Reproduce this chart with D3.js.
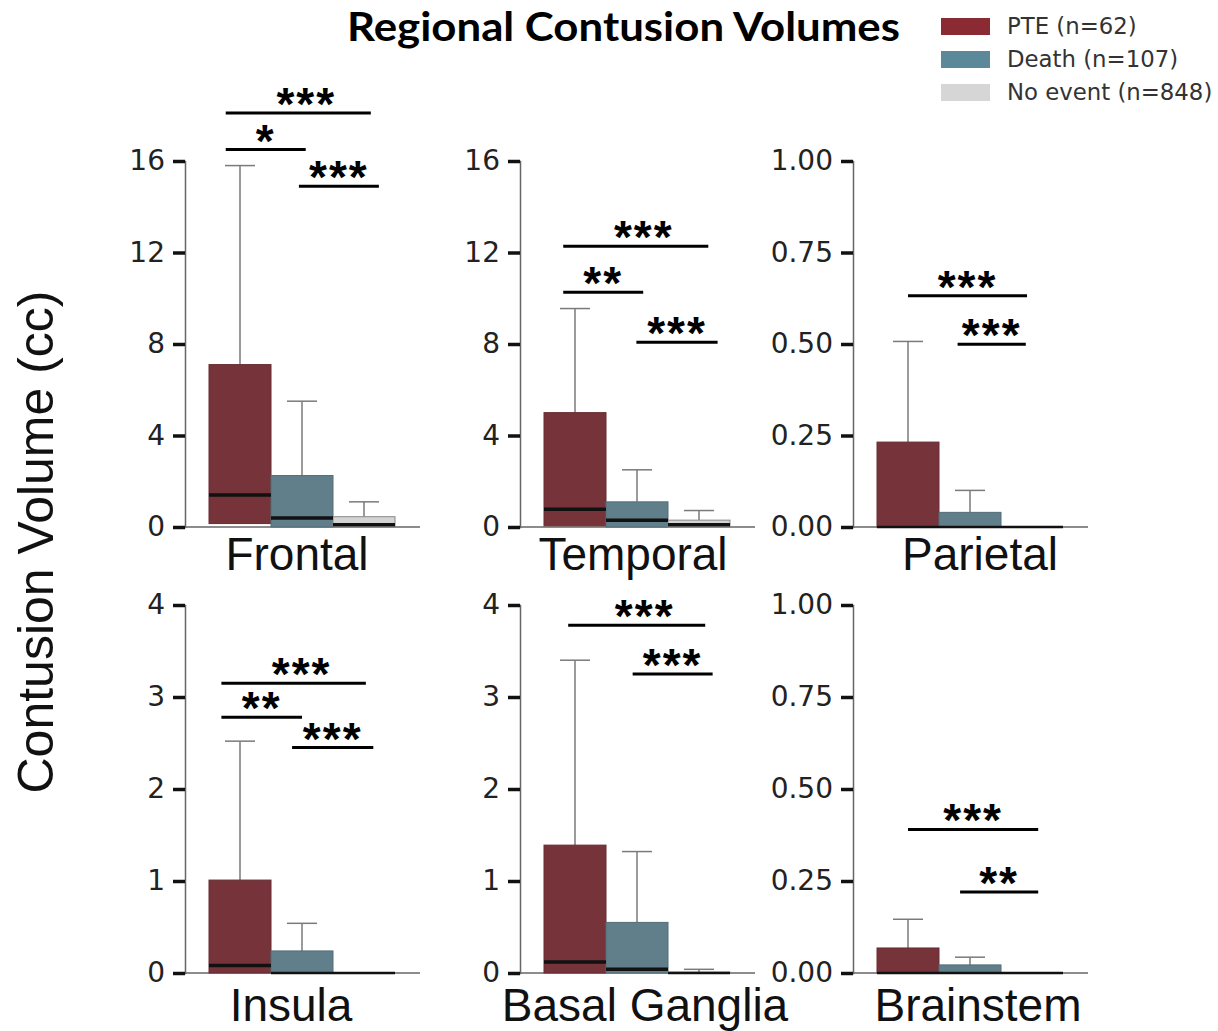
<!DOCTYPE html>
<html>
<head>
<meta charset="utf-8">
<script src="https://cdn.jsdelivr.net/npm/d3@7"></script>
<style>
  body { margin: 0; background: #fff; }
  svg { display: block; }
</style>
</head>
<body>
<svg id="chart" width="1218" height="1031"></svg>
<script>
// values
const regions = ['Frontal', 'Temporal', 'Parietal', 'Insula', 'Basal Ganglia', 'Brainstem'];
const groups = ['PTE (n=62)', 'Death (n=107)', 'No event (n=848)'];
const yMaxes = [16, 16, 1, 4, 4, 1];
const yTicks = [
  [0, 4, 8, 12, 16], [0, 4, 8, 12, 16], [0, 0.25, 0.5, 0.75, 1],
  [0, 1, 2, 3, 4], [0, 1, 2, 3, 4], [0, 0.25, 0.5, 0.75, 1]
];

// per region: [PTE, Death, No event]
const q1s      = [[0.15, 0, 0], [0.05, 0, 0], [0, 0, 0], [0, 0, 0], [0, 0, 0], [0, 0, 0]];
const medians  = [[1.35, 0.35, 0.05], [0.73, 0.25, 0.05], [0, 0, 0], [0.07, 0, 0], [0.11, 0.03, 0], [0, 0, 0]];
const q3s      = [[7.1, 2.25, 0.45], [5.0, 1.1, 0.3], [0.232, 0.04, 0], [1.01, 0.24, 0], [1.39, 0.55, 0.01], [0.068, 0.022, 0]];
const whiskers = [[15.8, 5.5, 1.1], [9.55, 2.5, 0.72], [0.507, 0.10, 0], [2.52, 0.54, 0], [3.4, 1.32, 0.04], [0.146, 0.043, 0]];

// significance brackets: [region, from group, to group, y value, stars]
const sigBars = [
  [0, -0.23, 2.11, 18.1, '***'], [0, -0.23, 1.06, 16.5, '*'], [0, 0.95, 2.24, 14.9, '***'],
  [1, -0.19, 2.15, 12.27, '***'], [1, -0.19, 1.1, 10.26, '**'], [1, 0.99, 2.3, 8.08, '***'],
  [2, 0.0, 1.92, 0.632, '***'], [2, 0.8, 1.9, 0.499, '***'],
  [3, -0.3, 2.03, 3.15, '***'], [3, -0.3, 1.0, 2.78, '**'], [3, 0.84, 2.15, 2.45, '***'],
  [4, -0.11, 2.1, 3.78, '***'], [4, 0.93, 2.22, 3.25, '***'],
  [5, 0.0, 2.1, 0.39, '***'], [5, 0.84, 2.1, 0.22, '**']
];

const boxColors = ['#76343a', '#607f8b', '#d4d4d4'];
const legendColors = ['#8a2b34', '#5b8999', '#d6d6d6'];

const svg = d3.select('#chart');

// panel frames
const axisXs = [185, 520, 853];
const rowY = [{zero: 527, top: 161, label: 570}, {zero: 973, top: 605, label: 1021}];
const labelDx = [112, 113, 127, 106, 125, 125];

regions.forEach((region, r) => {
  const col = r % 3, row = Math.floor(r / 3);
  const ax = axisXs[col];
  const fr = rowY[row];

  const x = d3.scaleBand().domain(d3.range(3)).range([ax + 24, ax + 24 + 186]);
  const xi = d3.scaleLinear().domain([0, 2]).range([x(0) + x.bandwidth() / 2, x(2) + x.bandwidth() / 2]);
  const y = d3.scaleLinear().domain([0, yMaxes[r]]).range([fr.zero, fr.top]);

  const g = svg.append('g');

  // x spine
  g.append('line')
    .attr('x1', ax).attr('x2', ax + 235)
    .attr('y1', fr.zero).attr('y2', fr.zero)
    .attr('stroke', '#666').attr('stroke-width', 1.5);

  // y axis
  const fmt = yMaxes[r] < 2 ? d3.format('.2f') : d3.format('d');
  const yAxis = g.append('g')
    .attr('transform', `translate(${ax},0)`)
    .call(d3.axisLeft(y).tickValues(yTicks[r]).tickFormat(fmt).tickSize(12).tickPadding(8));
  yAxis.select('.domain').attr('stroke', '#666').attr('stroke-width', 1.5);
  yAxis.selectAll('.tick line').attr('stroke', '#111').attr('stroke-width', 3.5);
  yAxis.selectAll('.tick text')
    .attr('fill', '#222')
    .style('font-family', 'DejaVu Sans')
    .style('font-size', '28px');

  const idx = d3.range(3);
  const cx = i => x(i) + x.bandwidth() / 2;

  // whiskers (upper only, as drawn in the figure)
  idx.filter(i => whiskers[r][i] > q3s[r][i]).forEach(i => {
    g.append('line')
      .attr('x1', cx(i)).attr('x2', cx(i))
      .attr('y1', y(q3s[r][i])).attr('y2', y(whiskers[r][i]))
      .attr('stroke', '#7a7a7a').attr('stroke-width', 1.5);
    g.append('line')
      .attr('x1', cx(i) - 15).attr('x2', cx(i) + 15)
      .attr('y1', y(whiskers[r][i])).attr('y2', y(whiskers[r][i]))
      .attr('stroke', '#7a7a7a').attr('stroke-width', 1.5);
  });

  g.selectAll('rect.box')
    .data(idx)
    .join('rect')
    .attr('class', 'box')
    .attr('x', i => x(i))
    .attr('width', x.bandwidth())
    .attr('y', i => y(q3s[r][i]))
    .attr('height', i => y(q1s[r][i]) - y(q3s[r][i]))
    .attr('fill', i => boxColors[i])
    .attr('stroke', i => i === 2 ? '#888' : d3.color(boxColors[i]).darker(0.4))
    .attr('stroke-width', 1);

  g.selectAll('line.med')
    .data(idx)
    .join('line')
    .attr('class', 'med')
    .attr('x1', i => x(i)).attr('x2', i => x(i) + x.bandwidth())
    .attr('y1', i => y(medians[r][i]) - (medians[r][i] > 0 ? 1 : 0))
    .attr('y2', i => y(medians[r][i]) - (medians[r][i] > 0 ? 1 : 0))
    .attr('stroke', '#111')
    .attr('stroke-width', i => medians[r][i] > 0 ? 3.5 : 2.5);

  // significance brackets
  const sg = g.append('g');
  sigBars.filter(s => s[0] === r).forEach(s => {
    const x1 = xi(s[1]), x2 = xi(s[2]), yy = y(s[3]);
    sg.append('line')
      .attr('x1', x1).attr('x2', x2).attr('y1', yy).attr('y2', yy)
      .attr('stroke', '#000').attr('stroke-width', 3);
    sg.append('text')
      .attr('x', (x1 + x2) / 2 + (s[4].length === 3 && s[1] < 0 ? 8 : 0))
      .attr('y', yy + 7)
      .attr('text-anchor', 'middle')
      .style('font-family', 'Liberation Sans, Arial, sans-serif')
      .style('font-weight', 'bold')
      .style('font-size', '46px')
      .style('letter-spacing', '2px')
      .text(s[4]);
  });

  // region label
  svg.append('text')
    .attr('x', ax + labelDx[r])
    .attr('y', fr.label)
    .attr('text-anchor', 'middle')
    .style('font-family', 'Liberation Sans, Arial, sans-serif')
    .style('font-size', '46px')
    .attr('fill', '#111')
    .text(region);
});

// y label
svg.append('text')
  .attr('transform', 'translate(53,542) rotate(-90)')
  .attr('text-anchor', 'middle')
  .style('font-family', 'Liberation Sans, Arial, sans-serif')
  .style('font-size', '50px')
  .attr('fill', '#111')
  .text('Contusion Volume (cc)');

// title
svg.append('text')
  .attr('x', 347).attr('y', 41)
  .attr('textLength', 553)
  .attr('lengthAdjust', 'spacingAndGlyphs')
  .style('font-family', 'Lato, sans-serif')
  .style('font-weight', 'bold')
  .style('font-size', '41px')
  .attr('fill', '#000')
  .text('Regional Contusion Volumes');

// legend
const legend = svg.append('g').attr('transform', 'translate(941,18)');
groups.forEach((name, i) => {
  legend.append('rect')
    .attr('x', 0).attr('y', i * 33)
    .attr('width', 49).attr('height', 17)
    .attr('fill', legendColors[i]);
  legend.append('text')
    .attr('x', 66).attr('y', i * 33 + 16)
    .style('font-family', 'DejaVu Sans')
    .style('font-size', '22.8px')
    .attr('fill', '#333')
    .text(name);
});
</script>
</body>
</html>
